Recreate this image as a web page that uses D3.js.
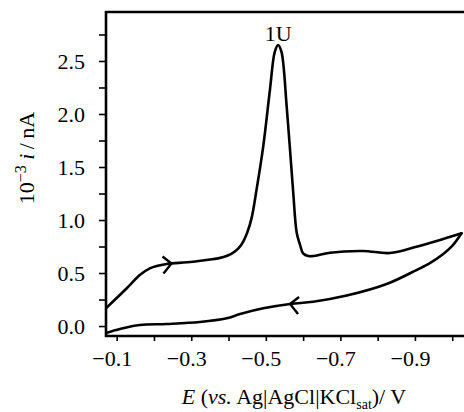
<!DOCTYPE html>
<html>
<head>
<meta charset="utf-8">
<script src="https://cdn.jsdelivr.net/npm/d3@7"></script>
<style>
    html, body { margin: 0; padding: 0; background: #fff; }
    svg { display: block; }
    text { font-family: "Liberation Serif", "Times New Roman", serif; fill: #000; }
</style>
</head>
<body>
<div id="chart-cv"></div>
<script>
(function () {

    // forward scan (E in V, current in 10^3 nA)
    var fwdE = [-0.071, -0.127, -0.162, -0.189, -0.234, -0.288, -0.341, -0.372, -0.398, -0.417,
                -0.434, -0.450, -0.462, -0.475, -0.493, -0.511, -0.524, -0.533, -0.542, -0.556,
                -0.573, -0.583, -0.592, -0.600, -0.614, -0.627, -0.672, -0.761, -0.833, -0.904,
                -0.976, -1.025];
    var fwdI = [0.167, 0.356, 0.481, 0.544, 0.585, 0.601, 0.623, 0.638, 0.665, 0.703,
                0.765, 0.880, 1.020, 1.283, 1.692, 2.226, 2.585, 2.651, 2.585, 2.069,
                1.283, 0.877, 0.764, 0.686, 0.660, 0.660, 0.692, 0.708, 0.689, 0.748,
                0.821, 0.875];

    // reverse scan
    var revE = [-1.025, -1.000, -0.976, -0.940, -0.904, -0.824, -0.717, -0.627, -0.565, -0.493,
                -0.431, -0.395, -0.323, -0.234, -0.162, -0.109, -0.071];
    var revI = [0.875, 0.755, 0.680, 0.594, 0.528, 0.396, 0.287, 0.229, 0.208, 0.167,
                0.113, 0.073, 0.038, 0.019, 0.009, -0.028, -0.066];

    // scan direction arrows
    var arrowE   = [-0.247, -0.565];
    var arrowI   = [0.590, 0.208];
    var arrowDir = [1, -1];   // 1 = pointing to more negative E

    var xTicks      = [-0.1, -0.2, -0.3, -0.4, -0.5, -0.6, -0.7, -0.8, -0.9, -1.0];
    var xTickLabels = ["\u22120.1", "", "\u22120.3", "", "\u22120.5", "", "\u22120.7", "", "\u22120.9", ""];
    var yTicks      = [0, 0.25, 0.5, 0.75, 1.0, 1.25, 1.5, 1.75, 2.0, 2.25, 2.5, 2.75];
    var yTickLabels = ["0.0", "", "0.5", "", "1.0", "", "1.5", "", "2.0", "", "2.5", ""];

    var peakLabel = "1U";
    var peakE = -0.533, peakI = 2.651;

    var W = 464, H = 412;
    var FONT = 22;
    var left = 106, right = 464, top = 12, bottom = 336;

    var svg = d3.select("#chart-cv")
        .append("svg")
        .attr("width", W)
        .attr("height", H);

    var x = d3.scaleLinear().domain([-0.0713, -1.0316]).range([left, right]);
    var y = d3.scaleLinear().domain([-0.094, 2.962]).range([bottom, top]);

    var fwd = fwdE.map(function (e, i) { return { e: e, i: fwdI[i] }; });
    var rev = revE.map(function (e, i) { return { e: e, i: revI[i] }; });

    var line = d3.line()
        .x(function (d) { return x(d.e); })
        .y(function (d) { return y(d.i); })
        .curve(d3.curveCatmullRom.alpha(0.5));

    svg.append("defs").append("clipPath")
        .attr("id", "clip-cv")
        .append("rect")
        .attr("x", left).attr("y", top)
        .attr("width", right - left).attr("height", bottom - top);

    [fwd, rev].forEach(function (pts) {
        svg.append("path")
            .datum(pts)
            .attr("clip-path", "url(#clip-cv)")
            .attr("fill", "none")
            .attr("stroke", "#000")
            .attr("stroke-width", 2.6)
            .attr("stroke-linejoin", "round")
            .attr("stroke-linecap", "round")
            .attr("d", line);
    });

    // arrows (open chevrons)
    arrowE.forEach(function (e, k) {
        var px = x(e), py = y(arrowI[k]), dir = arrowDir[k];
        svg.append("path")
            .attr("d", "M" + (px - dir * 9) + "," + (py - 7) +
                       "L" + px + "," + py +
                       "L" + (px - dir * 8) + "," + (py + 10))
            .attr("fill", "none")
            .attr("stroke", "#000")
            .attr("stroke-width", 2.4)
            .attr("stroke-linejoin", "miter");
    });

    // axes
    var xAxis = d3.axisBottom(x)
        .tickValues(xTicks)
        .tickSize(5)
        .tickSizeOuter(0)
        .tickFormat(function (d, i) { return xTickLabels[i]; });
    var gx = svg.append("g")
        .attr("transform", "translate(0," + bottom + ")")
        .call(xAxis);
    gx.selectAll("text")
        .attr("dy", null)
        .attr("y", 30)
        .attr("dx", -5)
        .style("font-size", FONT + "px");

    var yAxis = d3.axisLeft(y)
        .tickValues(yTicks)
        .tickSize(7)
        .tickSizeOuter(0)
        .tickFormat(function (d, i) { return yTickLabels[i]; });
    var gy = svg.append("g")
        .attr("transform", "translate(" + left + ",0)")
        .call(yAxis);
    gy.selectAll("text")
        .attr("x", -21)
        .style("font-size", FONT + "px");

    svg.selectAll(".domain").remove();
    svg.selectAll(".tick line")
        .attr("stroke", "#000")
        .attr("stroke-width", 1.6);

    // frame: left, top, bottom
    svg.append("path")
        .attr("d", "M" + right + "," + top + "L" + left + "," + top +
                   "L" + left + "," + bottom + "L" + right + "," + bottom)
        .attr("fill", "none")
        .attr("stroke", "#000")
        .attr("stroke-width", 2.6);

    // peak label
    svg.append("text")
        .attr("x", x(peakE))
        .attr("y", y(peakI) - 4)
        .attr("text-anchor", "middle")
        .style("font-size", FONT + "px")
        .text(peakLabel);

    // y label
    var yl = svg.append("text")
        .attr("transform", "translate(34," + 158 + ") rotate(-90)")
        .attr("text-anchor", "middle")
        .style("font-size", FONT + "px");
    yl.append("tspan").text("10");
    yl.append("tspan").attr("dy", -8).style("font-size", "16px").text("\u22123");
    yl.append("tspan").attr("dy", 8).text(" ");
    yl.append("tspan").style("font-style", "italic").text("i");
    yl.append("tspan").text("\u2009/\u2009nA");

    // x label
    var xl = svg.append("text")
        .attr("x", 294)
        .attr("y", 404)
        .attr("text-anchor", "middle")
        .style("font-size", FONT + "px");
    xl.append("tspan").style("font-style", "italic").text("E");
    xl.append("tspan").text(" (");
    xl.append("tspan").style("font-style", "italic").text("vs.");
    xl.append("tspan").text(" Ag|AgCl|KCl");
    xl.append("tspan").attr("dy", 5).style("font-size", "14px").text("sat");
    xl.append("tspan").attr("dy", -5).text(")/ V");

}());
</script>
</body>
</html>
